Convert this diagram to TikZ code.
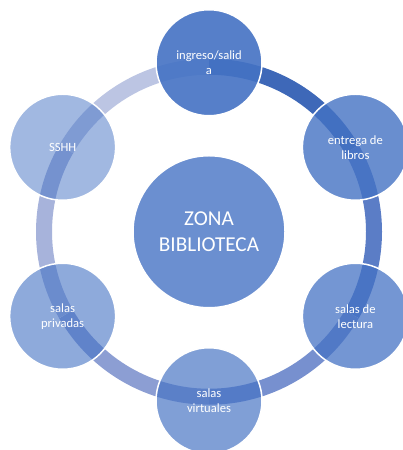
\documentclass[tikz,border=0pt]{standalone}
\usepackage{fontspec}
\setmainfont{Carlito}
\usetikzlibrary{calc}
\definecolor{acc}{HTML}{4472C4}
\definecolor{segA}{HTML}{3E68B8}
\definecolor{segB}{HTML}{5B7DC6}
\definecolor{segC}{HTML}{7790CF}
\definecolor{segD}{HTML}{8C9ED3}
\definecolor{segE}{HTML}{A7B3DB}
\definecolor{segF}{HTML}{BCC5E3}
\tikzset{
  ringseg/.style={line width=16bp},
  bub/.style={circle, minimum size=106bp, inner sep=0pt, draw=white, line width=1.5bp,
    fill=acc, text=white, text opacity=1, align=center,
    font=\fontsize{12.6bp}{15bp}\selectfont},
  hub/.style={circle, minimum size=152bp, inner sep=0pt, draw=white, line width=1.5bp,
    fill=acc, fill opacity=0.79, text=white, text opacity=1, align=center,
    font=\fontsize{21.2bp}{25.9bp}\selectfont}
}
\begin{document}
\begin{tikzpicture}[x=1bp,y=1bp]
\useasboundingbox (0,0) rectangle (402,450);
\fill[white] (0,0) rectangle (402,450);
\coordinate (C) at (209,218.25);
% ring segments
\foreach \a/\b/\col in {90/30/segA, 30/-30/segB, -30/-90/segC, -90/-150/segD, -150/-210/segE, -210/-270/segF}
  \draw[ringseg, \col] ($(C)+(\a:165)$) arc[start angle=\a, end angle=\b, radius=165bp];
% centre
\node[hub] (hub) at (C) {ZONA\\BIBLIOTECA};
% bubbles
\node[bub, fill opacity=0.9]  (ing) at ($(C)+(90:169)$)   {ingreso/salid\\a};
\node[bub, fill opacity=0.8]  (ent) at ($(C)+(30:169)$)   {entrega de\\libros};
\node[bub, fill opacity=0.74] (lec) at ($(C)+(-30:169)$)  {salas de\\lectura};
\node[bub, fill opacity=0.68] (vir) at ($(C)+(-90:169)$)  {salas\\virtuales};
\node[bub, fill opacity=0.6]  (pri) at ($(C)+(-150:169)$) {salas\\privadas};
\node[bub, fill opacity=0.5]  (ssh) at ($(C)+(150:169)$)  {SSHH};
\end{tikzpicture}
\end{document}
